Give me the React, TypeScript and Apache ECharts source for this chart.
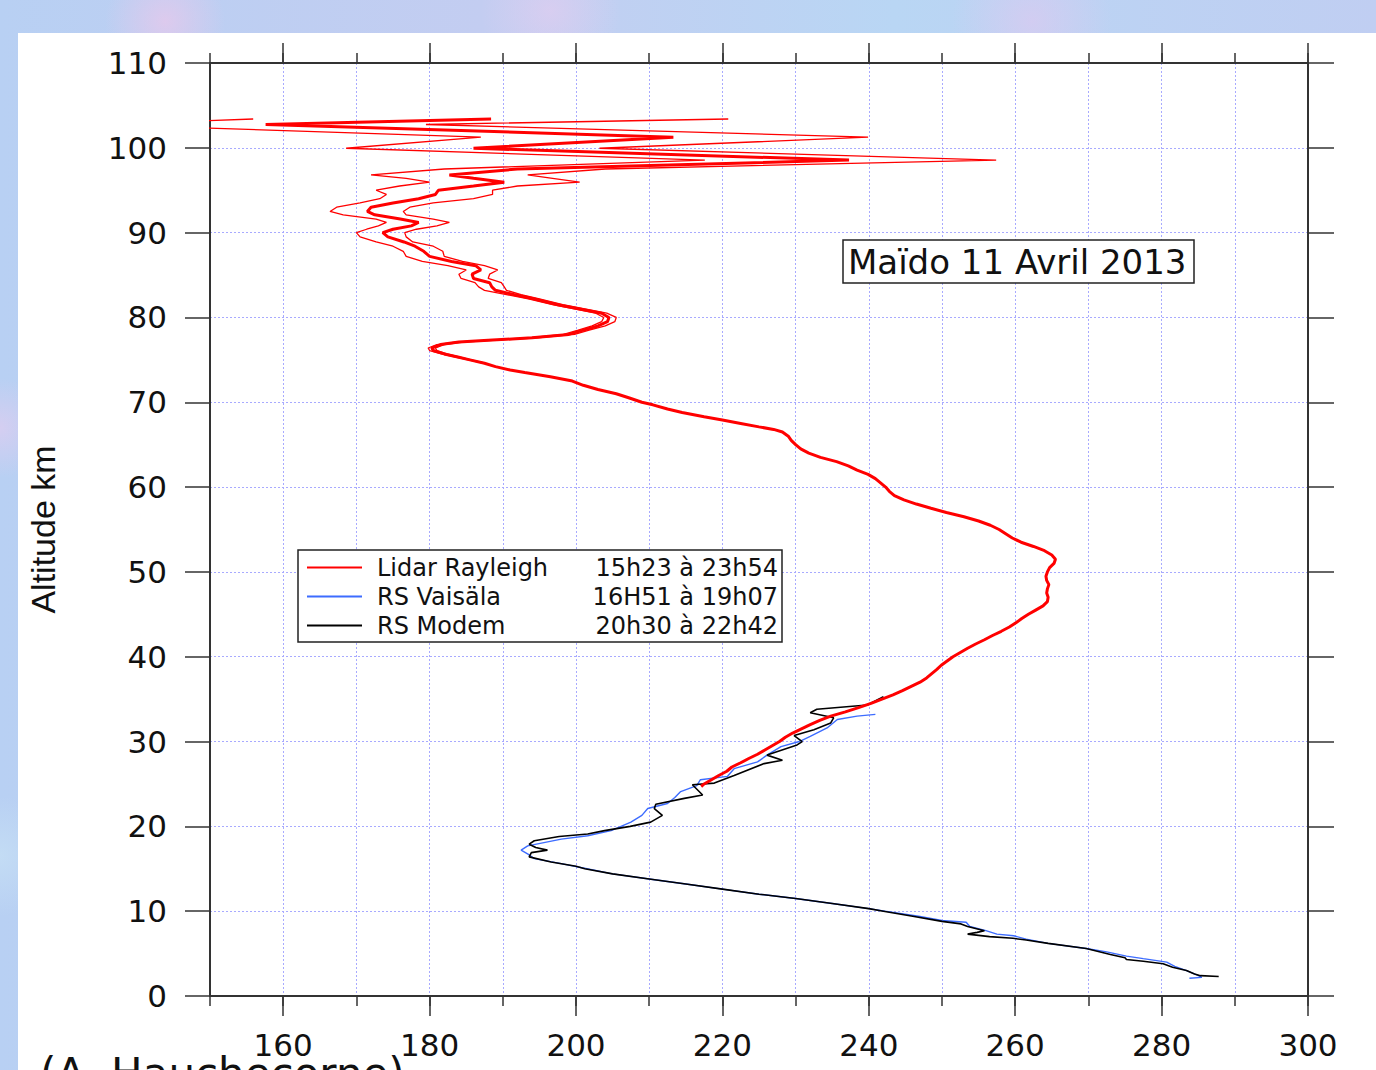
import React, { useEffect, useRef } from "react";
import * as echarts from "echarts";

// ---------- data ----------
const xMajorTicks = [160, 180, 200, 220, 240, 260, 280, 300];

// Lidar Rayleigh mean profile (altitude km, temperature K), bottom -> top
const lidarAltitude = [
  24.7, 25.0, 25.5, 26.0, 26.5, 27.0, 27.5, 28.0, 28.5, 29.0, 29.5, 30.0, 30.5, 31.0, 31.5, 32.0, 32.5, 33.0,
  33.5, 34.0, 34.5, 35.0, 35.5, 36.0, 36.5, 37.0, 37.5, 38.0, 38.5, 39.0, 39.5, 40.0, 40.5, 41.0, 41.5, 42.0,
  42.5, 43.0, 43.5, 44.0, 44.5, 45.0, 45.5, 46.0, 46.5, 47.0, 47.5, 48.0, 48.5, 49.0, 49.5, 50.0, 50.5, 51.0,
  51.5, 52.0, 52.5, 53.0, 53.5, 54.0, 54.5, 55.0, 55.5, 56.0, 56.5, 57.0, 57.5, 58.0, 58.5, 59.0, 59.5, 60.0,
  60.5, 61.0, 61.5, 62.0, 62.5, 63.0, 63.5, 64.0, 64.5, 65.0, 65.5, 66.0, 66.5, 66.8, 67.1, 67.5, 67.9, 68.3,
  68.8, 69.2, 69.7, 70.0, 70.5, 71.0, 71.5, 72.0, 72.5, 73.0, 73.5, 73.8, 74.2, 74.6,
  75.0, 75.3, 75.7, 76.1, 76.4, 76.8, 77.1, 77.3, 77.6, 78.0, 78.5, 79.0, 79.5, 80.0, 80.5, 81.0, 81.5, 82.2,
  82.7, 83.2, 83.6, 84.1, 84.6, 85.1, 85.6, 86.1, 86.6, 87.2, 87.8, 88.4, 88.9, 89.5, 90.0, 90.4, 90.8, 91.2,
  91.6, 92.1, 92.5, 93.0, 93.5, 94.0, 94.5, 95.0, 95.5, 95.95, 96.4, 96.8, 97.5, 98.55, 99.95, 101.25, 102.75, 103.4,
];
const lidarMean = [
  217.1, 217.5, 218.5, 219.5, 220.6, 221.3, 222.5, 223.6, 224.8, 225.8, 226.8, 227.8, 228.6, 229.6, 230.8, 232.0, 233.3, 234.8,
  236.8, 238.6, 240.3, 241.8, 243.3, 244.6, 245.8, 247.0, 247.9, 248.6, 249.3, 249.9, 250.7, 251.5, 252.5, 253.5, 254.6, 255.8,
  256.9, 258.1, 259.2, 260.1, 260.9, 261.8, 262.8, 263.8, 264.4, 264.5, 264.3, 264.4, 264.6, 264.3, 264.2, 264.4, 264.7, 265.3,
  265.5, 265.0, 264.0, 262.5, 260.8, 259.6, 258.7, 257.8, 256.6, 255.0, 253.0, 250.6, 248.5, 246.5, 244.8, 243.5, 242.8, 242.3,
  241.6, 240.9, 239.9, 238.4, 237.2, 235.6, 233.4, 231.8, 230.7, 230.0, 229.4, 229.0, 228.2, 227.0, 225.0, 222.5, 220.0, 217.5,
  214.5, 212.5, 210.5, 209.0, 207.3, 205.5, 203.0, 201.0, 199.5, 196.5, 193.0, 191.0, 189.0, 187.5,
  185.5, 184.0, 182.0, 180.5, 180.3, 181.5, 184.0, 188.0, 194.0, 199.0, 201.0, 203.0, 204.3, 204.5, 203.5, 200.5, 197.5, 194.2,
  191.5, 189.0, 188.5, 188.2, 186.0, 185.8, 187.0, 186.3, 183.0, 180.0, 179.2, 178.0, 176.5, 174.3, 173.6, 175.0, 177.5, 178.5,
  176.0, 172.5, 171.5, 172.0, 175.0, 178.5, 180.8, 181.2, 186.0, 190.2, 186.0, 182.7, 192.0, 237.3, 186.0, 213.3, 157.6, 188.4,
];

// Lidar envelope (lower / upper profiles), bottom -> top
const envelopeAltitude = [
  74.6, 75.0, 75.3, 75.7, 76.1, 76.4, 76.8, 77.1, 77.3, 77.6, 78.0, 78.5, 79.0, 79.5, 80.0, 80.5, 81.0, 81.5, 82.2,
  82.7, 83.2, 83.6, 84.1, 84.6, 85.1, 85.6, 86.1, 86.6, 87.2, 87.8, 88.4, 88.9, 89.5, 90.0, 90.4, 90.8, 91.2,
  91.6, 92.1, 92.5, 93.0, 93.5, 94.0, 94.5, 95.0, 95.5, 95.95, 96.4, 96.8, 97.5, 98.55, 99.95, 101.25, 102.75, 103.4,
];
const lidarLow = [
  187.4, 185.3, 183.7, 181.6, 180.0, 179.8, 181.0, 183.5, 187.5, 193.4, 198.3, 200.3, 202.2, 203.5, 203.8, 202.7, 199.8, 196.8, 193.5,
  190.5, 187.5, 186.7, 186.2, 184.3, 184.0, 185.0, 182.5, 179.0, 176.8, 176.4, 175.0, 172.7, 170.5, 170.0, 171.4, 173.0, 174.1,
  172.7, 168.2, 166.4, 167.3, 170.5, 173.2, 174.1, 172.7, 175.9, 180.0, 176.8, 172.0, 182.0, 217.6, 168.6, 187.0, 135.0, 155.9,
];
const lidarHigh = [
  187.6, 185.7, 184.3, 182.4, 181.0, 180.8, 182.0, 184.6, 188.6, 194.7, 199.8, 201.8, 204.0, 205.3, 205.5, 204.2, 201.2, 198.2, 195.0,
  192.5, 190.5, 190.2, 189.8, 188.0, 188.2, 189.3, 187.5, 184.5, 182.0, 181.8, 180.5, 177.7, 176.8, 176.6, 178.2, 181.0, 182.7,
  180.5, 176.8, 176.4, 177.3, 180.5, 186.0, 188.6, 188.6, 192.0, 200.5, 196.8, 193.4, 204.0, 257.4, 203.2, 239.9, 179.5, 220.8,
];

// Radiosonde Vaisala, bottom -> top
const vaisalaAltitude = [
  2.1, 2.2, 2.5, 3.0, 3.5, 4.0, 4.4, 4.7, 5.2, 5.6, 6.2, 6.7, 7.1, 7.3, 7.7, 8.2, 8.7, 8.9, 9.4, 10.0,
  10.3, 10.9, 11.5, 12.0, 12.6, 13.2, 13.8, 14.4, 15.0, 15.6, 16.2, 16.7, 17.2, 17.7, 18.5, 18.9, 19.5, 20.5,
  21.3, 22.1, 22.7, 23.4, 24.1, 24.8, 25.5, 25.9, 26.8, 27.6, 28.4, 29.4, 30.0, 30.6, 31.6, 32.6, 33.0, 33.2,
];
const vaisalaTemperature = [
  283.8, 285.5, 284.8, 283.4, 281.8, 280.7, 277.5, 275.2, 272.5, 269.7, 264.5, 261.5, 259.8, 257.5, 256.0, 253.8, 253.3, 250.0, 246.8, 242.2,
  240.0, 235.0, 230.0, 225.0, 220.0, 215.0, 210.0, 205.0, 201.5, 198.0, 194.3, 193.5, 192.5, 193.4, 198.0, 201.6, 204.8, 207.5,
  209.0, 209.8, 212.5, 213.5, 214.3, 216.5, 217.0, 220.7, 221.6, 224.8, 226.1, 228.0, 230.5, 232.0, 234.3, 235.7, 238.4, 240.9,
];

// Radiosonde Modem, bottom -> top
const modemAltitude = [
  2.3, 2.4, 2.6, 3.0, 3.4, 3.8, 4.1, 4.3, 4.5, 4.9, 5.6, 6.2, 6.6, 6.8, 7.0, 7.3, 7.5, 7.7, 8.2, 8.5, 8.8,
  9.4, 10.0, 10.3, 10.9, 11.5, 12.0, 12.6, 13.2, 13.8, 14.4, 15.0, 15.3, 15.8, 16.4, 16.9, 17.2, 17.5, 17.9,
  18.3, 18.8, 19.1, 19.5, 20.0, 20.5, 21.3, 22.1, 22.6, 23.3, 23.7, 24.9, 25.1, 26.0, 27.4, 27.8, 28.4, 29.6,
  30.0, 30.7, 31.4, 32.2, 32.8, 33.4, 33.8, 34.3, 35.1, 35.3,
];
const modemTemperature = [
  287.8, 285.3, 284.5, 283.4, 281.5, 280.2, 277.5, 275.2, 275.0, 273.0, 269.7, 264.5, 261.5, 259.7, 256.5, 253.5, 254.8, 255.8, 253.5, 252.6, 250.0,
  246.0, 242.0, 240.0, 235.0, 230.0, 225.0, 220.0, 215.0, 210.0, 205.0, 201.2, 200.0, 196.6, 193.6, 193.9, 196.1, 194.5, 193.6,
  194.3, 197.7, 201.6, 203.9, 207.4, 210.2, 211.8, 210.7, 210.9, 214.8, 217.3, 215.9, 218.9, 221.6, 225.7, 228.2, 226.1, 230.2,
  230.9, 229.8, 232.5, 234.8, 235.2, 232.0, 232.9, 239.8, 241.6, 242.0,
];

const legendNames = ["Lidar Rayleigh", "RS Vaisäla", "RS Modem"];
const legendTimes = ["15h23 à 23h54", "16H51 à 19h07", "20h30 à 22h42"];
const annotationText = "Maïdo 11 Avril 2013";
const creditText = "(A. Hauchecorne)";

// ---------- helpers ----------
const pairs = (temps: number[], alts: number[]) => alts.map((z, i) => [temps[i], z]);
const FONT = "'DejaVu Sans', Verdana, sans-serif";
const AXIS_COLOR = "#333";
const GRID_LINE = { show: true, lineStyle: { color: "#a8aaff", type: [2, 2] as any, width: 1 } };

export default function App() {
  const ref = useRef<HTMLDivElement>(null);

  useEffect(() => {
    if (!ref.current) return;
    const chart = echarts.init(ref.current, null, { renderer: "svg" });

    const xBase = { type: "value", min: 150, max: 300, interval: 10, gridIndex: 0 };
    const yBase = { type: "value", min: 0, max: 110, interval: 10, gridIndex: 0 };

    const option: any = {
      animation: false,
      backgroundColor: "transparent",
      grid: { left: 210, right: 68, top: 63, bottom: 74, containLabel: false },
      title: {
        text: annotationText,
        left: 843,
        top: 240,
        backgroundColor: "#fff",
        borderColor: "#222",
        borderWidth: 1.5,
        padding: [2, 8, 2, 5],
        textStyle: { fontFamily: FONT, fontSize: 34, fontWeight: "normal", color: "#111", lineHeight: 39 },
      },
      legend: {
        orient: "vertical",
        left: 298,
        top: 550,
        data: legendNames,
        selectedMode: false,
        backgroundColor: "#fff",
        borderColor: "#222",
        borderWidth: 1.5,
        borderRadius: 0,
        padding: [3, 4, 2, 9],
        icon: "rect",
        itemWidth: 55,
        itemHeight: 2,
        itemGap: 0,
        formatter: (name: string) => {
          const i = legendNames.indexOf(name);
          return `{n|${name}}{t|${legendTimes[i]}}`;
        },
        textStyle: {
          fontFamily: FONT,
          fontSize: 24,
          color: "#111",
          lineHeight: 29,
          rich: {
            n: { fontFamily: FONT, fontSize: 24, color: "#111", lineHeight: 29, width: 180, padding: [0, 0, 0, 10] },
            t: { fontFamily: FONT, fontSize: 24, color: "#111", lineHeight: 29, width: 221, align: "right" },
          },
        },
      },
      xAxis: [
        {
          ...xBase,
          position: "bottom",
          axisLine: { show: true, onZero: false, lineStyle: { color: AXIS_COLOR, width: 2 } },
          axisTick: { show: true, inside: false, length: 10, lineStyle: { color: AXIS_COLOR, width: 1.5 } },
          axisLabel: {
            show: true,
            customValues: xMajorTicks,
            formatter: (v: number) => (v % 20 === 0 ? String(v) : ""),
            margin: 33,
            fontFamily: FONT,
            fontSize: 31,
            color: "#111",
          },
          splitLine: GRID_LINE,
        },
        {
          ...xBase,
          position: "bottom",
          axisLine: { show: false, onZero: false },
          axisTick: { show: true, inside: false, length: 20, customValues: xMajorTicks, lineStyle: { color: AXIS_COLOR, width: 1.5 } },
          axisLabel: { show: false },
          splitLine: { show: false },
        },
        {
          ...xBase,
          position: "top",
          axisLine: { show: true, onZero: false, lineStyle: { color: AXIS_COLOR, width: 2 } },
          axisTick: { show: true, inside: false, length: 10, lineStyle: { color: AXIS_COLOR, width: 1.5 } },
          axisLabel: { show: false },
          splitLine: { show: false },
        },
        {
          ...xBase,
          position: "top",
          axisLine: { show: false, onZero: false },
          axisTick: { show: true, inside: false, length: 20, customValues: xMajorTicks, lineStyle: { color: AXIS_COLOR, width: 1.5 } },
          axisLabel: { show: false },
          splitLine: { show: false },
        },
      ],
      yAxis: [
        {
          ...yBase,
          position: "left",
          name: "Altitude km",
          nameLocation: "middle",
          nameRotate: 90,
          nameGap: 150,
          nameTextStyle: { fontFamily: "'Liberation Sans Narrow', 'Liberation Sans', sans-serif", fontSize: 34, color: "#111" },
          axisLine: { show: true, onZero: false, lineStyle: { color: AXIS_COLOR, width: 2 } },
          axisTick: { show: true, inside: false, length: 25, lineStyle: { color: AXIS_COLOR, width: 1.5 } },
          axisLabel: { show: true, margin: 43, fontFamily: FONT, fontSize: 31, color: "#111" },
          splitLine: GRID_LINE,
        },
        {
          ...yBase,
          position: "right",
          axisLine: { show: true, onZero: false, lineStyle: { color: AXIS_COLOR, width: 2 } },
          axisTick: { show: true, inside: false, length: 26, lineStyle: { color: AXIS_COLOR, width: 1.5 } },
          axisLabel: { show: false },
          splitLine: { show: false },
        },
      ],
      series: [
        {
          name: "RS Vaisäla",
          type: "line",
          xAxisIndex: 0,
          yAxisIndex: 0,
          data: pairs(vaisalaTemperature, vaisalaAltitude),
          symbol: "none",
          color: "#3d6cff",
          lineStyle: { color: "#3d6cff", width: 1.4 },
          z: 2,
        },
        {
          name: "RS Modem",
          type: "line",
          xAxisIndex: 0,
          yAxisIndex: 0,
          data: pairs(modemTemperature, modemAltitude),
          symbol: "none",
          color: "#000",
          lineStyle: { color: "#000", width: 1.6 },
          z: 3,
        },
        {
          name: "Lidar Rayleigh",
          type: "line",
          xAxisIndex: 0,
          yAxisIndex: 0,
          data: pairs(lidarLow, envelopeAltitude),
          symbol: "none",
          color: "#ff0000",
          lineStyle: { color: "#ff0000", width: 1.3 },
          z: 4,
        },
        {
          name: "Lidar Rayleigh",
          type: "line",
          xAxisIndex: 0,
          yAxisIndex: 0,
          data: pairs(lidarHigh, envelopeAltitude),
          symbol: "none",
          color: "#ff0000",
          lineStyle: { color: "#ff0000", width: 1.3 },
          z: 4,
        },
        {
          name: "Lidar Rayleigh",
          type: "line",
          xAxisIndex: 0,
          yAxisIndex: 0,
          data: pairs(lidarMean, lidarAltitude),
          symbol: "none",
          color: "#ff0000",
          lineStyle: { color: "#ff0000", width: 3 },
          z: 5,
        },
      ],
      graphic: [
        {
          type: "text",
          left: 40,
          top: 1052,
          style: { text: creditText, fontFamily: FONT, fontSize: 42, fill: "#111" },
        },
      ],
    };

    chart.setOption(option);
    return () => chart.dispose();
  }, []);

  return (
    <div
      style={{
        position: "fixed",
        left: 0,
        top: 0,
        width: 1376,
        height: 1070,
        overflow: "hidden",
        background:
          "radial-gradient(circle at 12% 2%, rgba(235,200,235,0.7) 0, rgba(235,200,235,0) 60px)," +
          "radial-gradient(circle at 40% 1%, rgba(230,205,240,0.6) 0, rgba(230,205,240,0) 70px)," +
          "radial-gradient(circle at 75% 2%, rgba(225,200,240,0.6) 0, rgba(225,200,240,0) 80px)," +
          "radial-gradient(circle at 0% 40%, rgba(225,205,240,0.7) 0, rgba(225,205,240,0) 50px)," +
          "radial-gradient(circle at 0% 80%, rgba(200,225,245,0.7) 0, rgba(200,225,245,0) 60px)," +
          "linear-gradient(90deg, #b8d0f3, #c3cdf1 35%, #b9d6f4 65%, #c0cef2)",
      }}
    >
      <div style={{ position: "absolute", left: 18, top: 33, width: 1358, height: 1037, background: "#fff" }} />
      <div ref={ref} style={{ position: "absolute", left: 0, top: 0, width: 1376, height: 1070 }} />
    </div>
  );
}
